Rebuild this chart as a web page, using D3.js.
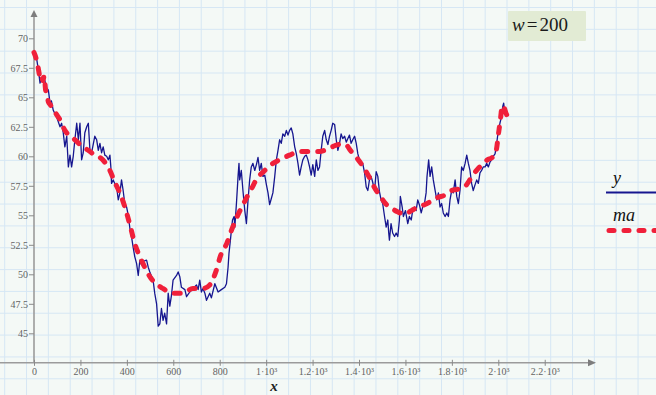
<!DOCTYPE html>
<html>
<head>
<meta charset="utf-8">
<script src="https://cdn.jsdelivr.net/npm/d3@7"></script>
<style>
body { margin: 0; background: #f4f9f6; }
svg { display: block; }
</style>
</head>
<body>
<svg width="656" height="395"></svg>
<script>
// y: raw series, ma: moving average (w = 200) as [x, value]
var ySeries = [[0,68.9],[7,68.5],[12,68.2],[19,67.3],[26,66.2],[32,66.6],[40,66.7],[47,66.4],[54,65.8],[62,65.6],[69,64.5],[75,64.7],[83,63.9],[98,63.3],[112,62.5],[119,62.8],[126,62.0],[133,60.8],[141,61.7],[148,59.1],[155,60.1],[162,59.1],[169,60.0],[176,61.4],[184,62.8],[191,61.4],[198,62.8],[205,59.7],[212,60.3],[219,62.0],[227,62.5],[234,62.8],[241,60.5],[248,60.3],[262,61.7],[270,61.4],[277,60.5],[284,61.1],[291,60.3],[298,60.8],[305,60.1],[313,60.0],[320,59.7],[327,60.1],[331,59.1],[334,57.7],[341,58.0],[348,57.7],[356,57.4],[363,56.3],[370,56.9],[377,58.0],[384,57.1],[391,56.0],[399,55.7],[406,55.0],[413,53.9],[420,53.2],[427,52.3],[434,51.5],[442,50.9],[449,49.9],[456,51.2],[463,50.8],[470,51.1],[485,51.2],[492,50.6],[499,50.2],[513,49.5],[520,48.4],[528,47.5],[535,45.6],[542,45.8],[549,47.1],[556,46.1],[563,46.7],[571,45.8],[578,48.4],[585,47.3],[592,48.2],[599,49.5],[614,49.9],[621,50.2],[628,49.8],[635,48.9],[650,48.7],[657,48.1],[671,48.5],[685,48.8],[700,49.1],[707,48.7],[714,49.5],[721,48.5],[728,48.8],[736,48.4],[743,47.8],[750,48.1],[757,48.4],[764,48.0],[779,49.2],[793,48.5],[807,48.7],[822,48.9],[829,49.2],[836,50.6],[840,51.8],[846,52.9],[855,54.6],[862,54.9],[865,54.0],[872,56.0],[879,58.3],[883,59.4],[886,58.0],[893,58.8],[900,57.1],[908,55.4],[915,54.3],[922,56.3],[929,58.0],[936,59.1],[943,59.4],[951,58.8],[958,59.3],[965,59.9],[972,58.8],[979,59.4],[986,58.3],[994,58.4],[1001,57.6],[1008,56.9],[1015,55.9],[1022,56.4],[1029,56.9],[1037,58.3],[1044,59.7],[1051,60.5],[1058,61.4],[1065,61.1],[1072,61.9],[1080,61.7],[1087,62.2],[1094,61.8],[1101,62.2],[1108,62.4],[1115,61.9],[1123,60.8],[1130,60.2],[1137,59.4],[1144,58.4],[1151,59.1],[1158,59.7],[1166,60.0],[1173,60.1],[1180,59.7],[1187,59.1],[1194,58.4],[1201,59.3],[1209,58.3],[1216,59.7],[1223,58.8],[1230,59.1],[1237,60.5],[1244,61.7],[1252,62.2],[1259,61.4],[1266,61.0],[1273,61.7],[1280,62.2],[1287,62.8],[1295,62.7],[1302,61.4],[1309,60.5],[1316,61.1],[1323,61.9],[1330,61.5],[1338,61.7],[1345,61.2],[1352,61.5],[1359,61.8],[1366,61.1],[1373,61.4],[1381,61.7],[1388,61.1],[1395,60.2],[1402,59.7],[1416,59.4],[1424,58.6],[1431,57.4],[1438,57.1],[1445,58.0],[1452,58.3],[1459,57.8],[1467,57.1],[1474,58.7],[1481,58.3],[1488,57.0],[1495,56.3],[1502,56.0],[1510,54.9],[1517,54.0],[1524,54.6],[1528,53.5],[1531,52.9],[1538,54.3],[1545,53.5],[1553,53.2],[1560,53.5],[1567,53.2],[1574,54.6],[1578,56.6],[1586,55.7],[1591,54.9],[1600,55.4],[1610,54.3],[1617,54.9],[1625,54.6],[1631,55.4],[1639,55.7],[1646,55.4],[1653,56.3],[1660,55.9],[1668,55.2],[1674,55.7],[1682,56.0],[1689,56.9],[1693,58.3],[1700,59.7],[1706,58.3],[1713,59.1],[1720,58.0],[1728,57.1],[1735,56.3],[1742,56.9],[1749,55.7],[1756,56.0],[1763,55.2],[1771,54.9],[1778,55.2],[1785,54.9],[1792,56.3],[1799,57.1],[1806,56.9],[1814,58.0],[1821,56.6],[1828,56.0],[1835,57.1],[1842,59.1],[1849,58.8],[1857,59.4],[1864,60.1],[1871,59.4],[1878,58.8],[1885,57.7],[1892,57.1],[1900,57.6],[1907,58.0],[1914,57.7],[1921,58.6],[1928,58.8],[1935,59.1],[1943,59.1],[1950,59.4],[1957,59.1],[1964,59.5],[1971,59.7],[1978,60.0],[1986,60.2],[1993,61.1],[1997,61.7],[2001,62.2],[2007,62.8],[2013,63.3],[2019,64.2],[2023,64.5],[2029,63.6],[2033,63.9],[2037,63.5],[2042,63.6]];

var maSeries = [[0,68.8],[9,68.3],[17,67.6],[26,66.8],[32,67.0],[38,66.4],[44,66.8],[50,65.6],[56,65.2],[62,64.6],[69,64.4],[82,64.0],[95,63.6],[112,63.1],[133,62.2],[155,61.7],[176,61.4],[198,61.0],[219,60.7],[241,60.4],[262,60.1],[284,59.9],[305,59.5],[327,58.8],[348,57.8],[370,56.9],[396,55.4],[417,53.9],[434,52.6],[456,51.5],[477,50.6],[499,49.8],[520,49.3],[555,48.8],[598,48.4],[641,48.4],[684,48.8],[727,48.8],[757,49.1],[783,50.2],[804,51.6],[830,52.6],[852,53.8],[873,54.8],[895,55.7],[916,56.5],[938,57.3],[963,58.2],[989,58.7],[1015,59.2],[1058,59.7],[1101,60.1],[1144,60.4],[1187,60.4],[1230,60.4],[1273,60.7],[1316,61.0],[1342,61.0],[1363,60.5],[1389,59.9],[1415,59.2],[1445,58.2],[1471,57.2],[1492,56.6],[1514,56.0],[1540,55.6],[1566,55.3],[1596,55.1],[1626,55.4],[1652,55.7],[1682,55.9],[1712,56.2],[1738,56.5],[1768,56.7],[1798,57.1],[1824,57.2],[1854,57.4],[1884,58.2],[1910,58.9],[1931,59.3],[1953,59.7],[1974,59.9],[1991,60.5],[2000,61.8],[2009,63.1],[2017,64.3],[2026,64.1],[2034,63.6],[2041,63.4]];

var xTicks = [0, 200, 400, 600, 800, 1000, 1200, 1400, 1600, 1800, 2000, 2200];
var xTickLabels = ["0", "200", "400", "600", "800", "1·10³", "1.2·10³", "1.4·10³", "1.6·10³", "1.8·10³", "2·10³", "2.2·10³"];
var yTicks = [45, 47.5, 50, 52.5, 55, 57.5, 60, 62.5, 65, 67.5, 70];
var yTickLabels = ["45", "47.5", "50", "52.5", "55", "57.5", "60", "62.5", "65", "67.5", "70"];
var w = 200;

var svg = d3.select("svg"),
    width = +svg.attr("width"),
    height = +svg.attr("height"),
    serif = "'Liberation Serif', 'DejaVu Serif', serif";

var x = d3.scaleLinear().domain([0, 2000]).range([34, 498.3]);
var y = d3.scaleLinear().domain([45, 70]).range([333.3, 38.3]);
var x0 = x(0), y0 = y(42.5);

// worksheet grid behind everything
var grid = svg.append("g").attr("stroke", "#d6e7f4").attr("stroke-width", 1);
d3.range(4.7, width, 21.84).forEach(function(gx) {
    grid.append("line").attr("x1", gx).attr("x2", gx).attr("y1", 0).attr("y2", height);
});
d3.range(7.5, height, 21.84).forEach(function(gy) {
    grid.append("line").attr("y1", gy).attr("y2", gy).attr("x1", 0).attr("x2", width);
});

// axes lines with arrows
var axisColor = "#9b9b9b";
svg.append("line").attr("x1", 0).attr("x2", 590).attr("y1", y0).attr("y2", y0)
    .attr("stroke", axisColor).attr("stroke-width", 1.6);
svg.append("path").attr("d", "M596," + y0 + "L588," + (y0 - 3.5) + "L588," + (y0 + 3.5) + "Z")
    .attr("fill", "#7d7d7d");
svg.append("line").attr("x1", x0).attr("x2", x0).attr("y1", y0).attr("y2", 16)
    .attr("stroke", axisColor).attr("stroke-width", 1.6);
svg.append("path").attr("d", "M" + x0 + ",10L" + (x0 - 3.5) + ",17L" + (x0 + 3.5) + ",17Z")
    .attr("fill", "#7d7d7d");

var gx = svg.append("g").attr("transform", "translate(0," + y0 + ")")
    .call(d3.axisBottom(x).tickValues(xTicks)
        .tickFormat(function(d, i) { return xTickLabels[i]; })
        .tickSizeInner(3).tickSizeOuter(0).tickPadding(2.3));
gx.select(".domain").remove();
gx.selectAll(".tick line").attr("y1", -3).attr("y2", 3).attr("stroke", "#8a8a8a");
gx.selectAll(".tick text").attr("font-family", serif).attr("font-size", 10).attr("fill", "#636363");

var gy = svg.append("g").attr("transform", "translate(" + x0 + ",0)")
    .call(d3.axisLeft(y).tickValues(yTicks)
        .tickFormat(function(d, i) { return yTickLabels[i]; })
        .tickSizeInner(5).tickSizeOuter(0).tickPadding(1));
gy.select(".domain").remove();
gy.selectAll(".tick line").attr("stroke", "#8a8a8a");
gy.selectAll(".tick text").attr("font-family", serif).attr("font-size", 10).attr("fill", "#636363");

svg.append("text").attr("x", 274).attr("y", 391).attr("text-anchor", "middle")
    .attr("font-family", serif).attr("font-style", "italic").attr("font-weight", "bold")
    .attr("font-size", 15).attr("fill", "#222").text("x");

// series
var line = d3.line().x(function(d) { return x(d[0]); }).y(function(d) { return y(d[1]); });

svg.append("path").datum(ySeries).attr("d", line)
    .attr("fill", "none").attr("stroke", "#16168f").attr("stroke-width", 1.3)
    .attr("stroke-linejoin", "round");

svg.append("path").datum(maSeries).attr("d", line.curve(d3.curveMonotoneX))
    .attr("fill", "none").attr("stroke", "#f0203a").attr("stroke-width", 5)
    .attr("stroke-dasharray", "6,10").attr("stroke-linecap", "round");

// legend
svg.append("text").attr("x", 613).attr("y", 184).attr("font-family", serif)
    .attr("font-style", "italic").attr("font-size", 18).attr("fill", "#111").text("y");
svg.append("line").attr("x1", 606).attr("x2", width).attr("y1", 192.5).attr("y2", 192.5)
    .attr("stroke", "#16168f").attr("stroke-width", 2);
svg.append("text").attr("x", 613).attr("y", 220.5).attr("font-family", serif)
    .attr("font-style", "italic").attr("font-size", 18).attr("fill", "#111").text("ma");
svg.append("line").attr("x1", 609).attr("x2", width + 5).attr("y1", 230.5).attr("y2", 230.5)
    .attr("stroke", "#f0203a").attr("stroke-width", 5)
    .attr("stroke-dasharray", "5,10").attr("stroke-linecap", "round");

// w = 200 region
svg.append("rect").attr("x", 508).attr("y", 11).attr("width", 78).attr("height", 30)
    .attr("rx", 1).attr("fill", "#e2ebd4");
var wt = svg.append("text").attr("x", 512).attr("y", 31).attr("font-family", serif)
    .attr("font-size", 19).attr("fill", "#1a1a1a");
wt.append("tspan").attr("font-style", "italic").text("w");
wt.append("tspan").attr("dx", 2).text("=");
wt.append("tspan").attr("dx", 2).text(w);
</script>
</body>
</html>
